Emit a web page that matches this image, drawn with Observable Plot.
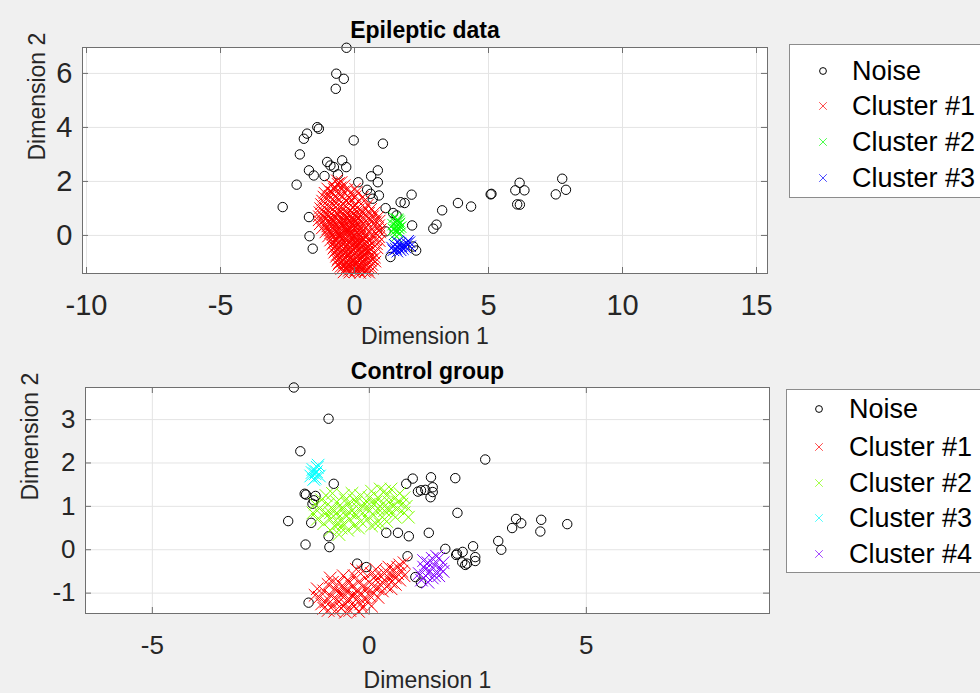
<!DOCTYPE html>
<html>
<head>
<meta charset="utf-8">
<script src="https://cdn.jsdelivr.net/npm/d3@7"></script>
<script src="https://cdn.jsdelivr.net/npm/@observablehq/plot@0.6"></script>
<style>
  html, body { margin: 0; padding: 0; background: #f0f0f0; }
  #fig { position: relative; width: 980px; height: 693px; background: #f0f0f0; overflow: hidden;
         font-family: "Liberation Sans", Arial, Helvetica, sans-serif; }
  .panel { position: absolute; left: 0; }
  .legend { position: absolute; background: #fff; border: 1px solid #8c8c8c; box-sizing: border-box; }
  .legend .mk { position: absolute; }
  .legend .lb { position: absolute; font-size: 27px; line-height: 36px; height: 36px; color: #000; white-space: nowrap; }
</style>
</head>
<body>
<div id="fig"></div>
<script>
// ---- Epileptic data: 2-D embedding, DBSCAN-style labelling ----
const epiXTicks = [-10, -5, 0, 5, 10, 15];
const epiYTicks = [0, 2, 4, 6];
const epiLabels = ["Noise", "Cluster #1", "Cluster #2", "Cluster #3"];
const epiColors = ["#000000", "#ff0000", "#00ff00", "#0000ff"];

const epiNoise = [[-0.30,6.95],[-0.68,5.99],[-0.40,5.80],[-0.70,5.43],[-1.39,4.01],[-1.33,3.95],[-1.77,3.77],[-1.89,3.58],
  [-0.03,3.52],[1.06,3.40],[-2.04,3.00],[-1.02,2.72],[-0.90,2.59],[-0.46,2.78],[-0.31,2.53],[-0.77,2.53],[-1.70,2.41],
  [-1.52,2.22],[-1.12,2.20],[-0.62,2.26],[0.87,2.41],[0.62,2.19],[0.87,1.97],[0.14,1.97],[-2.16,1.88],[-2.68,1.05],
  [0.47,1.69],[0.60,1.54],[0.91,1.48],[0.68,1.36],[2.13,1.51],[1.72,1.23],[1.87,1.20],[1.16,1.01],[1.44,0.83],[1.57,0.74],
  [-1.70,0.68],[2.15,0.37],[1.16,0.15],[-1.68,-0.03],[-1.56,-0.49],[1.34,-0.80],[2.30,-0.56],[2.19,-0.41],[3.27,0.93],
  [3.86,1.20],[4.35,1.07],[2.94,0.25],[3.06,0.40],[5.08,1.52],[5.11,1.54],[6.16,1.95],[6.00,1.67],[6.34,1.67],[6.07,1.15],
  [6.17,1.14],[7.75,2.10],[7.89,1.69],[7.51,1.52]];

const epiCluster1 = [[-0.66,2.04],[-0.48,1.98],[-0.58,1.94],[-0.86,1.88],[-0.63,1.91],[-0.37,1.86],[-0.74,1.80],
  [-1.02,1.74],[-0.77,1.72],[-0.52,1.78],[-0.27,1.70],[0.02,1.73],[-0.90,1.62],
  [-1.12,1.58],[-0.83,1.60],[-0.62,1.56],[-0.41,1.63],[-0.16,1.57],[0.08,1.61],
  [-1.16,1.44],[-0.93,1.47],[-0.71,1.42],[-0.46,1.46],[-0.22,1.41],[0.04,1.45],[0.31,1.43],
  [-1.21,1.29],[-0.98,1.32],[-0.77,1.27],[-0.56,1.31],[-0.32,1.28],[-0.11,1.33],[0.14,1.27],[0.38,1.30],
  [-1.25,1.16],[-1.03,1.13],[-0.81,1.17],[-0.62,1.12],[-0.41,1.15],[-0.19,1.18],[0.01,1.12],[0.24,1.16],[0.49,1.13],
  [-1.28,1.01],[-1.07,0.98],[-0.86,1.03],[-0.66,0.97],[-0.44,1.02],[-0.26,0.99],[-0.04,1.03],[0.16,0.97],[0.41,1.01],[0.62,0.98],
  [-1.31,0.86],[-1.12,0.83],[-0.91,0.87],[-0.69,0.84],[-0.51,0.88],[-0.29,0.82],[-0.09,0.86],[0.11,0.83],[0.32,0.87],[0.54,0.84],[0.76,0.86],
  [-1.33,0.71],[-1.16,0.68],[-0.94,0.72],[-0.76,0.69],[-0.54,0.73],[-0.36,0.67],[-0.14,0.71],[0.06,0.68],[0.26,0.72],[0.46,0.69],[0.69,0.71],[0.88,0.68],
  [-1.34,0.56],[-1.19,0.53],[-0.99,0.57],[-0.81,0.54],[-0.59,0.58],[-0.41,0.52],[-0.19,0.56],[0.01,0.53],[0.21,0.57],[0.42,0.54],[0.61,0.58],[0.80,0.52],[0.94,0.55],
  [-1.30,0.41],[-1.11,0.38],[-0.89,0.42],[-0.71,0.39],[-0.49,0.43],[-0.31,0.37],[-0.09,0.41],[0.09,0.38],[0.31,0.42],[0.51,0.39],[0.72,0.41],[0.92,0.38],
  [-1.22,0.26],[-1.01,0.23],[-0.79,0.27],[-0.61,0.24],[-0.39,0.28],[-0.21,0.22],[0.01,0.26],[0.19,0.23],[0.41,0.27],[0.64,0.24],[0.86,0.26],[0.98,0.23],
  [-1.09,0.11],[-0.91,0.08],[-0.69,0.12],[-0.51,0.09],[-0.29,0.13],[-0.11,0.07],[0.11,0.11],[0.29,0.08],[0.56,0.12],[0.79,0.09],[0.96,0.11],
  [-0.99,-0.04],[-0.81,-0.07],[-0.59,-0.03],[-0.41,-0.06],[-0.19,-0.02],[0.01,-0.08],[0.21,-0.04],[0.44,-0.07],[0.69,-0.03],[0.92,-0.06],
  [-0.91,-0.19],[-0.69,-0.22],[-0.51,-0.18],[-0.29,-0.21],[-0.11,-0.17],[0.11,-0.23],[0.29,-0.19],[0.56,-0.22],[0.79,-0.18],[0.94,-0.21],
  [-0.84,-0.34],[-0.66,-0.37],[-0.44,-0.33],[-0.26,-0.36],[-0.04,-0.32],[0.14,-0.38],[0.36,-0.34],[0.59,-0.37],[0.84,-0.33],
  [-0.79,-0.49],[-0.61,-0.52],[-0.39,-0.48],[-0.21,-0.51],[0.01,-0.47],[0.19,-0.53],[0.41,-0.49],[0.64,-0.52],[0.86,-0.48],
  [-0.76,-0.64],[-0.54,-0.67],[-0.36,-0.63],[-0.14,-0.66],[0.04,-0.62],[0.26,-0.68],[0.49,-0.64],[0.74,-0.67],
  [-0.69,-0.79],[-0.51,-0.82],[-0.29,-0.78],[-0.11,-0.81],[0.11,-0.77],[0.29,-0.83],[0.56,-0.79],[0.76,-0.82],
  [-0.64,-0.94],[-0.46,-0.97],[-0.24,-0.93],[-0.06,-0.96],[0.16,-0.92],[0.34,-0.98],[0.61,-0.94],[0.78,-0.97],
  [-0.61,-1.09],[-0.39,-1.12],[-0.21,-1.08],[0.01,-1.11],[0.19,-1.07],[0.41,-1.13],[0.66,-1.09],
  [-0.49,-1.24],[-0.31,-1.27],[-0.09,-1.23],[0.09,-1.26],[0.31,-1.22],[0.49,-1.28],[0.68,-1.24],
  [-0.41,-1.37],[-0.19,-1.38],[0.01,-1.36],[0.21,-1.39],[0.39,-1.35],[0.55,-1.38],
  [-0.30,-0.60],[-0.10,-0.90],[0.00,-1.00],[-0.20,-0.40],[0.10,-0.30],[-0.40,-0.20],[-0.20,0.20],[0.00,0.50],
  [-0.30,-1.20],[0.20,-1.20],[-0.10,-0.10],[-0.50,0.00],
  [-0.22,-1.31],[0.03,-1.29],[0.18,-1.32],[0.42,-1.30],
  [-0.52,-1.16],[-0.28,-1.18],[-0.12,-1.15],[0.12,-1.17],[0.28,-1.16],[0.52,-1.18],
  [-0.57,-1.02],[-0.33,-1.03],[-0.16,-1.01],[0.07,-1.04],[0.24,-1.02],[0.47,-1.03],
  [-0.62,-0.87],[-0.38,-0.88],[-0.21,-0.86],[0.02,-0.89],[0.22,-0.87],[0.38,-0.86],[0.66,-0.88],
  [-0.66,-0.72],[-0.43,-0.73],[-0.26,-0.71],[-0.04,-0.74],[0.17,-0.72],[0.33,-0.71],[0.61,-0.73],
  [-0.71,-0.57],[-0.49,-0.58],[-0.12,-0.56],[0.12,-0.58],[0.28,-0.57],[0.52,-0.56],
  [-0.74,-0.42],[-0.56,-0.43],[-0.33,-0.41],[-0.16,-0.44],[0.07,-0.42],[0.24,-0.41],[0.51,-0.43],
  [-0.79,-0.27],[-0.61,-0.28],[-0.21,-0.26],[0.02,-0.29],[0.18,-0.27],[0.46,-0.26],
  [-0.72,-0.12],[-0.48,-0.13],[-0.31,-0.11],[0.12,-0.14],[0.31,-0.12],[0.54,-0.11],
  [-0.82,0.03],[-0.58,0.02],[-0.22,0.04],[0.02,0.03],[0.18,0.02],[0.41,0.04],
  [-0.92,0.18],[-0.69,0.17],[-0.48,0.19],[-0.31,0.18],[-0.08,0.17],[0.32,0.19],
  [-1.02,0.33],[-0.61,0.32],[-0.42,0.34],[-0.19,0.33],[0.02,0.32],[0.22,0.34],
  [-0.91,0.48],[-0.72,0.47],[-0.52,0.49],[-0.28,0.48],[-0.12,0.47],[0.12,0.49],
  [-1.06,0.63],[-0.84,0.62],[-0.46,0.64],[-0.24,0.63],[-0.06,0.62],[0.16,0.64],
  [-1.01,0.78],[-0.62,0.77],[-0.39,0.79],[-0.18,0.78],[0.02,0.77]];

const epiCluster2 = [[1.47,0.66],[1.60,0.60],[1.52,0.48],[1.68,0.44],[1.56,0.35],[1.65,0.26],[1.46,0.22],[1.72,0.31],
  [1.60,0.12],[1.50,0.04],[1.70,0.08],[1.44,0.40],[1.66,0.52],[1.56,-0.04],[1.62,0.56],[1.54,0.20],[1.64,0.38]];

const epiCluster3 = [[1.45,-0.55],[1.55,-0.50],[1.65,-0.45],[1.60,-0.60],[1.75,-0.40],[1.85,-0.35],[1.95,-0.30],[2.05,-0.25],
  [1.80,-0.50],[1.90,-0.45],[2.00,-0.20],[1.70,-0.30],[1.50,-0.35],[2.08,-0.40],[1.60,-0.25],[1.40,-0.45],[1.72,-0.55]];

// ---- Control group ----
const ctrlXTicks = [-5, 0, 5];
const ctrlYTicks = [-1, 0, 1, 2, 3];
const ctrlLabels = ["Noise", "Cluster #1", "Cluster #2", "Cluster #3", "Cluster #4"];
const ctrlColors = ["#000000", "#ff0000", "#80ff00", "#00ffff", "#8000ff"];

const ctrlNoise = [[-1.74,3.74],[-0.94,3.02],[-1.59,2.27],[-0.82,1.52],[-1.49,1.29],[-1.46,1.27],[-1.24,1.24],[-1.28,1.14],
  [-1.31,1.06],[-1.87,0.66],[-1.34,0.62],[-0.94,0.31],[-1.47,0.12],[-0.92,0.06],[-1.40,-1.22],[-0.28,-0.32],[-0.07,-0.40],
  [0.39,0.39],[0.66,0.39],[0.91,0.31],[1.37,0.39],[0.85,1.52],[1.00,1.64],[1.42,1.67],[1.98,1.65],[1.12,1.34],[1.19,1.37],
  [1.29,1.38],[1.46,1.44],[1.46,1.33],[1.41,1.21],[2.03,0.85],[2.67,2.08],[0.88,-0.15],[1.06,-0.63],[1.19,-0.76],[1.75,0.02],
  [2.02,-0.09],[2.15,-0.05],[2.14,-0.29],[2.25,-0.32],[2.39,0.08],[2.44,-0.17],[2.44,-0.26],[2.97,0.20],[3.04,0.00],
  [3.38,0.71],[3.50,0.61],[3.29,0.50],[3.96,0.69],[3.94,0.42],[4.56,0.59],[2.00,-0.12],[2.21,-0.35]];

const ctrlCluster1 = [[-1.20,-0.90],[-1.15,-1.10],[-1.05,-0.95],[-1.00,-1.20],[-0.95,-0.80],[-0.90,-1.05],[-0.85,-1.30],
  [-0.80,-0.90],[-0.75,-1.15],[-0.70,-0.75],[-0.70,-1.00],[-0.65,-1.35],[-0.60,-0.85],[-0.60,-1.10],[-0.55,-1.25],
  [-0.50,-0.70],[-0.50,-0.95],[-0.45,-1.15],[-0.45,-1.40],[-0.40,-0.85],[-0.40,-1.05],[-0.35,-0.60],[-0.35,-1.30],
  [-0.30,-0.95],[-0.30,-1.15],[-0.25,-0.75],[-0.20,-1.00],[-0.20,-1.25],[-0.15,-0.85],[-0.10,-1.10],[-0.10,-0.65],
  [-0.05,-0.90],[0.00,-1.05],[0.00,-0.75],[0.05,-0.55],[0.10,-0.85],[0.10,-1.00],[0.15,-0.70],[0.20,-0.90],[0.25,-0.60],
  [0.25,-0.80],[0.30,-0.95],[0.35,-0.70],[0.40,-0.50],[0.40,-0.85],[0.45,-0.65],[0.50,-0.75],[0.55,-0.45],[0.55,-0.60],
  [0.60,-0.80],[0.65,-0.55],[0.70,-0.35],[0.70,-0.70],[0.75,-0.50],[0.80,-0.30],[0.80,-0.60],[-0.80,-1.42],[-0.55,-1.44],
  [-0.25,-1.42],[0.05,-1.30],[-1.05,-1.35],[-0.90,-0.65],[-0.60,-0.60],[0.15,-0.45],[-0.65,-1.00],[-0.55,-0.95],
  [-0.70,-1.20],[-0.35,-1.05],[-0.50,-1.15],[-0.15,-1.35],
  [-0.90,-1.20],[-0.75,-0.95],[-0.60,-1.30],[-0.45,-0.75],[-0.85,-0.75],[-0.95,-1.40],[-0.40,-1.25],[-0.25,-1.10],
  [-0.05,-1.20],[0.20,-1.10],[0.35,-0.55],[0.50,-0.90],[0.65,-0.40],[-1.10,-1.25],[-1.25,-1.05],[0.15,-0.60],
  [-0.15,-0.50],[0.60,-0.65],[0.45,-0.40],[-0.30,-0.45]];

const ctrlCluster2 = [[-1.30,0.85],[-1.25,1.05],[-1.20,0.70],[-1.15,0.95],[-1.10,1.15],[-1.05,0.60],[-1.00,0.85],[-0.95,1.05],
  [-0.90,0.45],[-0.90,0.70],[-0.85,1.30],[-0.80,0.90],[-0.80,0.55],[-0.75,1.10],[-0.70,0.35],[-0.70,0.75],[-0.65,0.95],
  [-0.60,1.25],[-0.60,0.60],[-0.55,0.80],[-0.50,1.05],[-0.50,0.45],[-0.45,0.70],[-0.40,0.90],[-0.40,1.30],[-0.35,0.55],
  [-0.30,1.10],[-0.30,0.80],[-0.25,0.95],[-0.20,0.65],[-0.20,1.25],[-0.15,0.85],[-0.10,1.05],[-0.05,0.70],[0.00,0.90],
  [0.00,1.20],[0.05,1.35],[0.10,0.80],[0.10,1.05],[0.15,0.60],[0.20,0.95],[0.20,1.20],[0.25,1.40],[0.30,0.75],[0.30,1.05],
  [0.35,0.90],[0.40,1.25],[0.40,0.65],[0.45,1.10],[0.50,0.85],[0.50,1.40],[0.55,1.00],[0.60,1.20],[0.60,0.75],[0.65,0.95],
  [0.70,1.30],[0.75,1.05],[0.80,0.85],[0.80,1.20],[0.85,1.00],[0.90,0.75],[-1.00,1.25],[-0.65,0.50],[-0.35,1.15],
  [0.05,0.55],[0.35,1.35],[-0.55,1.15],[-0.85,0.95],[-0.25,0.50],[0.25,0.60],
  [-0.75,0.85],[-0.60,0.95],[-0.45,0.85],[-0.90,0.85],[0.15,1.10],[0.30,0.95],[0.45,0.95],[-0.15,1.00],
  [0.65,1.10],[-1.20,0.90],[-0.70,0.60],[0.00,1.05]];

const ctrlCluster3 = [[-1.35,1.70],[-1.30,1.85],[-1.25,1.75],[-1.20,1.90],[-1.15,1.70],[-1.28,1.62],[-1.22,1.80],
  [-1.32,1.78],[-1.18,1.95],[-1.25,1.65]];

const ctrlCluster4 = [[1.15,-0.55],[1.20,-0.70],[1.25,-0.40],[1.30,-0.60],[1.35,-0.30],[1.40,-0.50],[1.45,-0.65],[1.50,-0.35],
  [1.55,-0.50],[1.60,-0.20],[1.65,-0.45],[1.70,-0.30],[1.35,-0.75],[1.45,-0.20],[1.60,-0.60],[1.70,-0.50],[1.25,-0.25],
  [1.55,-0.15],[1.30,-0.45],[1.50,-0.60]];

const FONT = '"Liberation Sans", Arial, Helvetica, sans-serif';
const AXIS = "#6f6f6f";
const GRID = "#e4e4e4";
const fig = document.getElementById("fig");

function panel(o) {
  const innerH = o.height - o.mt - o.mb;
  const innerW = 980 - o.ml - o.mr;
  const px = d => d[0], py = d => d[1];
  const marks = [
    Plot.frame({fill: "white", stroke: "none"}),
    Plot.ruleX(o.xTicks, {x: d => d, stroke: GRID}),
    Plot.ruleY(o.yTicks, {y: d => d, stroke: GRID}),
    Plot.dot(o.noise, {x: px, y: py, r: 4.7, symbol: "circle", stroke: o.colors[0], fill: "none", strokeWidth: 1}),
    ...o.clusters.map((c, i) => Plot.dot(c, {x: px, y: py, r: o.crossR, symbol: "times", stroke: o.colors[i + 1], strokeWidth: 1})),
    // inward tick marks on all four sides
    Plot.ruleX(o.xTicks, {x: d => d, insetTop: innerH - 6, stroke: AXIS}),
    Plot.ruleX(o.xTicks, {x: d => d, insetBottom: innerH - 6, stroke: AXIS}),
    Plot.ruleY(o.yTicks, {y: d => d, insetRight: innerW - 6, stroke: AXIS}),
    Plot.ruleY(o.yTicks, {y: d => d, insetLeft: innerW - 6, stroke: AXIS}),
    Plot.frame({stroke: AXIS, strokeWidth: 1}),
    Plot.text(o.xTicks, {x: d => d, text: d => String(d), frameAnchor: "bottom", dy: 32, lineAnchor: "middle",
      fontSize: o.tickFont, fill: "#262626"}),
    Plot.text(o.yTicks, {y: d => d, text: d => String(d), frameAnchor: "left", textAnchor: "end", dx: -10,
      lineAnchor: "middle", fontSize: o.tickFont, fill: "#262626"}),
    Plot.text(["Dimension 1"], {text: d => d, frameAnchor: "bottom", dy: o.xLabelDy, lineAnchor: "middle",
      fontSize: 23, fill: "#262626"}),
    Plot.text(["Dimension 2"], {text: d => d, frameAnchor: "left", dx: o.yLabelDx, rotate: -90, lineAnchor: "middle",
      fontSize: 23, fill: "#262626"}),
    Plot.text([o.title], {text: d => d, frameAnchor: "top", dy: o.titleDy, lineAnchor: "middle",
      fontSize: 23, fontWeight: "bold", fill: "#000"})
  ];
  const svg = Plot.plot({
    width: 980, height: o.height,
    marginTop: o.mt, marginBottom: o.mb, marginLeft: o.ml, marginRight: o.mr,
    x: {domain: o.xDomain, axis: null},
    y: {domain: o.yDomain, axis: null},
    style: {background: "transparent", fontFamily: FONT, overflow: "visible"},
    marks
  });
  svg.classList.add("panel");
  svg.style.top = o.top + "px";
  fig.appendChild(svg);
}

function legend(labels, colors, box) {
  const div = document.createElement("div");
  div.className = "legend";
  Object.assign(div.style, {left: box.left + "px", top: box.top + "px", width: box.width + "px", height: box.height + "px"});
  labels.forEach((lab, i) => {
    const cy = box.rows[i];
    const mk = document.createElementNS("http://www.w3.org/2000/svg", "svg");
    mk.setAttribute("class", "mk");
    mk.setAttribute("width", 12); mk.setAttribute("height", 12);
    mk.style.left = (box.mx - 6) + "px"; mk.style.top = (cy - 6) + "px";
    mk.innerHTML = i === 0
      ? `<circle cx="6" cy="6" r="3.4" fill="none" stroke="${colors[i]}" stroke-width="1"/>`
      : `<path d="M2.2,2.2L9.8,9.8M2.2,9.8L9.8,2.2" stroke="${colors[i]}" stroke-width="1" opacity="0.7"/>`;
    div.appendChild(mk);
    const sp = document.createElement("span");
    sp.className = "lb";
    sp.textContent = lab;
    sp.style.left = box.tx + "px"; sp.style.top = (cy - 18) + "px";
    div.appendChild(sp);
  });
  fig.appendChild(div);
}

panel({
  top: 0, height: 340, mt: 47, mb: 67, ml: 82, mr: 213,
  xDomain: [-10.15, 15.41], yDomain: [-1.41, 6.96],
  xTicks: epiXTicks, yTicks: epiYTicks,
  noise: epiNoise, clusters: [epiCluster1, epiCluster2, epiCluster3], colors: epiColors,
  crossR: 5.3, tickFont: 29, xLabelDy: 63, yLabelDx: -45, titleDy: -17, title: "Epileptic data"
});

panel({
  top: 340, height: 353, mt: 47, mb: 80, ml: 85, mr: 211,
  xDomain: [-6.54, 9.22], yDomain: [-1.47, 3.74],
  xTicks: ctrlXTicks, yTicks: ctrlYTicks,
  noise: ctrlNoise, clusters: [ctrlCluster1, ctrlCluster2, ctrlCluster3, ctrlCluster4], colors: ctrlColors,
  crossR: 5.8, tickFont: 26, xLabelDy: 67, yLabelDx: -55, titleDy: -15.5, title: "Control group"
});

legend(epiLabels, epiColors, {left: 789, top: 44, width: 210, height: 154, mx: 33, tx: 62, rows: [26, 61, 97, 133]});
legend(ctrlLabels, ctrlColors, {left: 786, top: 389, width: 210, height: 184, mx: 32, tx: 62, rows: [19, 57, 93, 128, 164]});
</script>
</body>
</html>
